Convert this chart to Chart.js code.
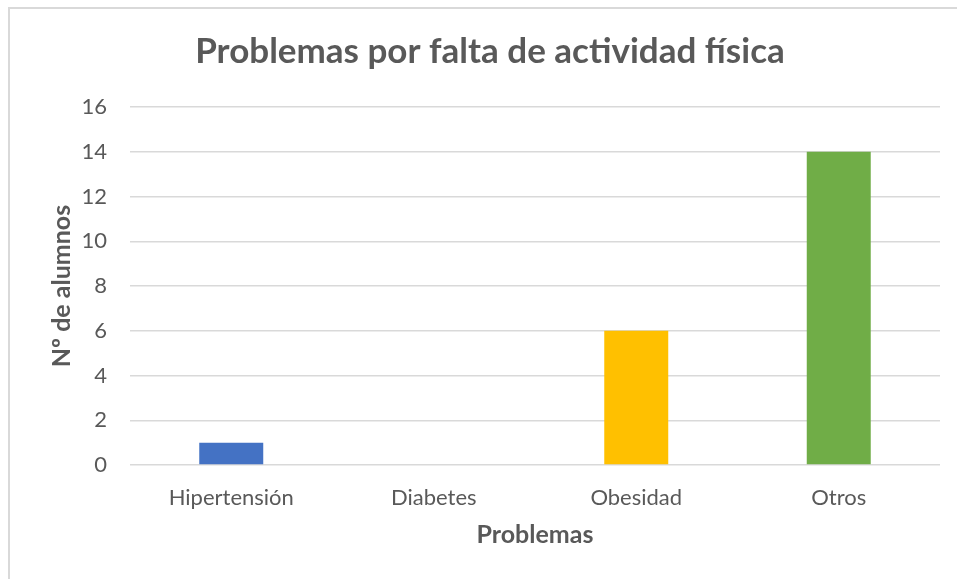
<!DOCTYPE html>
<html lang="es">
<head>
<meta charset="UTF-8">
<title>Problemas por falta de actividad física</title>
<script src="https://cdn.jsdelivr.net/npm/chart.js@4/dist/chart.umd.min.js"></script>
<style>
  html, body { margin: 0; padding: 0; background: #fff; overflow: hidden; }
  #marco {
    position: absolute;
    left: 8px;
    top: 7px;
    width: 1000px;
    height: 640px;
    border: 2px solid #d9d9d9;
    box-sizing: border-box;
  }
  #contenedor { position: absolute; left: 0; top: 0; width: 957px; height: 579px; }
</style>
</head>
<body>
<div id="marco"></div>
<div id="contenedor"><canvas id="chart-problemas"></canvas></div>
<script>
// =============================
// DATOS
// =============================
const categorias = ["Hipertensión", "Diabetes", "Obesidad", "Otros"];
const alumnos = [1, 0, 6, 14];
const colores = ["#4472C4", "#ED7D31", "#FFC000", "#70AD47"];

const TEXTO = "#595959";
const FUENTE = "Lato, 'Open Sans', sans-serif";

// =============================
// GRÁFICO
// =============================
new Chart(document.getElementById("chart-problemas"), {
  type: "bar",
  data: {
    labels: categorias,
    datasets: [{
      data: alumnos,
      backgroundColor: colores,
      borderWidth: 0,
      barPercentage: 0.316,
      categoryPercentage: 1
    }]
  },
  options: {
    responsive: true,
    maintainAspectRatio: false,
    animation: false,
    layout: {
      padding: { left: 40, right: 17, top: 0, bottom: 0 }
    },
    plugins: {
      legend: { display: false },
      tooltip: { enabled: false },
      title: {
        display: true,
        text: "Problemas por falta de actividad física",
        color: TEXTO,
        font: { family: FUENTE, size: 35, weight: "bold" },
        padding: { top: 31, bottom: 34 }
      }
    },
    scales: {
      x: {
        grid: { display: false },
        border: { display: false },
        ticks: {
          color: TEXTO,
          font: { family: FUENTE, size: 22 },
          padding: 12
        },
        title: {
          display: true,
          text: "Problemas",
          color: TEXTO,
          font: { family: FUENTE, size: 25, weight: "bold" },
          padding: { top: 0, bottom: 29 }
        },
        afterFit: s => { s.height = 114; }
      },
      y: {
        min: 0,
        max: 16,
        grid: {
          color: "#d9d9d9",
          lineWidth: 1.5,
          drawTicks: false
        },
        border: { display: false },
        ticks: {
          stepSize: 2,
          color: TEXTO,
          font: { family: FUENTE, size: 22 },
          padding: 23
        },
        title: {
          display: true,
          text: "Nº de alumnos",
          color: TEXTO,
          font: { family: FUENTE, size: 25, weight: "bold" },
          padding: { top: 7, bottom: 0 }
        },
        afterFit: s => { s.width = 90; }
      }
    }
  }
});
</script>
</body>
</html>
